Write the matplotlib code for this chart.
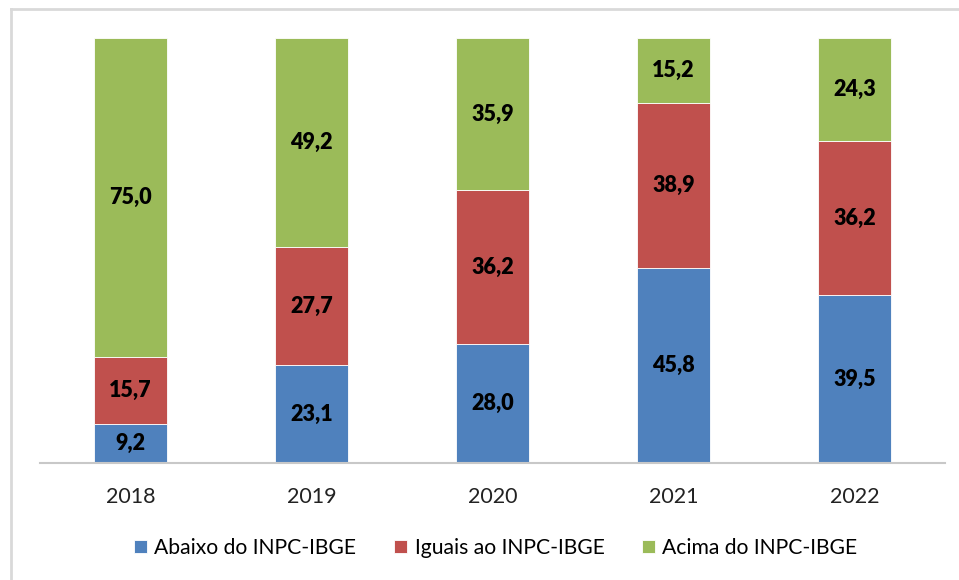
import matplotlib
matplotlib.use("Agg")
import matplotlib.pyplot as plt
from matplotlib.lines import Line2D
import numpy as np

# dados do gráfico
anos = ["2018", "2019", "2020", "2021", "2022"]
abaixo = [9.2, 23.1, 28.0, 45.8, 39.5]
iguais = [15.7, 27.7, 36.2, 38.9, 36.2]
acima = [75.0, 49.2, 35.9, 15.2, 24.3]
series_nomes = ["Abaixo do INPC-IBGE", "Iguais ao INPC-IBGE", "Acima do INPC-IBGE"]
cores = ["#4F81BD", "#C0504D", "#9BBB59"]

plt.rcParams["font.family"] = ["Lato", "DejaVu Sans"]

fig = plt.figure(figsize=(9.59, 5.80), dpi=100)
ax = fig.add_axes([40 / 959, 117 / 580, 905 / 959, (463 - 38) / 580])

x = np.arange(len(anos))
base = np.zeros(len(anos))
for valores, nome, cor in zip([abaixo, iguais, acima], series_nomes, cores):
    barras = ax.bar(x, valores, width=0.4, bottom=base, color=cor, label=nome,
                    edgecolor="white", linewidth=0.6)
    rotulos = [f"{v:.1f}".replace(".", ",") for v in valores]
    ax.bar_label(barras, labels=rotulos, label_type="center",
                 fontsize=15.5, fontweight="heavy", color="black")
    base += np.array(valores)

ax.set_xlim(-0.5, len(anos) - 0.5)
ax.set_ylim(0, 100)
ax.set_xticks(x)
ax.set_xticklabels(anos, fontsize=15.5, color="#222222")
ax.tick_params(axis="x", length=0, pad=17)
ax.set_yticks([])
for lado in ["top", "right", "left"]:
    ax.spines[lado].set_visible(False)
ax.spines["bottom"].set_color("#c8c8c8")
ax.spines["bottom"].set_linewidth(1.5)

fig.legend(loc="center", bbox_to_anchor=(496 / 959, 1 - 548 / 580), ncol=3,
           frameon=False, fontsize=15.2, handlelength=0.6, handleheight=0.6,
           handletextpad=0.35, columnspacing=1.8)

# moldura do gráfico
fig.add_artist(Line2D([11 / 959, 11 / 959], [0, 1 - 9 / 580], color="#d9d9d9", linewidth=2))
fig.add_artist(Line2D([11 / 959, 1], [1 - 9 / 580, 1 - 9 / 580], color="#d9d9d9", linewidth=2))

fig.savefig("out.png", dpi=100)
plt.close(fig)
